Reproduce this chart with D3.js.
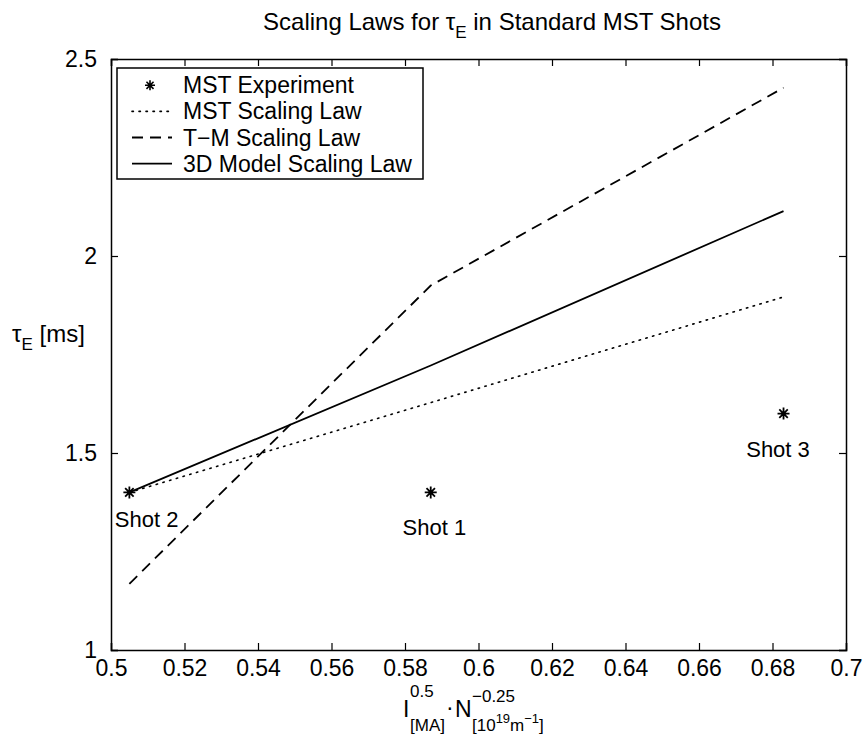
<!DOCTYPE html>
<html>
<head>
<meta charset="utf-8">
<script src="https://cdn.jsdelivr.net/npm/d3@7"></script>
<style>
  body { margin: 0; background: #fff; }
  svg { display: block; font-family: "Liberation Sans", Arial, Helvetica, sans-serif; }
  .axis text { font-size: 23px; fill: #000; }
</style>
</head>
<body>
<svg id="chart" width="868" height="734"></svg>
<script>
// ---- data ----
const xTicks = [0.5, 0.52, 0.54, 0.56, 0.58, 0.6, 0.62, 0.64, 0.66, 0.68, 0.7];
const yTicks = [1, 1.5, 2, 2.5];

const shotNames = ["Shot 2", "Shot 1", "Shot 3"];
const shotX = [0.505, 0.587, 0.683];
const shotTau = [1.4, 1.4, 1.6];
// where the shot labels sit (data units)
const labelX = [0.5097, 0.588, 0.6815];
const labelY = [1.313, 1.293, 1.491];

const mstLaw = [1.4, 1.628, 1.896];
const tmLaw = [1.168, 1.925, 2.427];
const model3dLaw = [1.4, 1.722, 2.114];

const legendNames = ["MST Experiment", "MST Scaling Law", "T\u2212M Scaling Law", "3D Model Scaling Law"];

const margin = { top: 59, right: 22, bottom: 84, left: 111 };
const width = 868, height = 734;

const svg = d3.select("#chart");

const x = d3.scaleLinear().domain([0.5, 0.7]).range([margin.left, width - margin.right]);
const y = d3.scaleLinear().domain([1, 2.5]).range([height - margin.bottom, margin.top]);

// 8-armed asterisk like matlab '*'
const star = {
  draw(ctx, size) {
    const r = Math.sqrt(size) / 2;
    const d = r * Math.SQRT1_2;
    ctx.moveTo(-r, 0); ctx.lineTo(r, 0);
    ctx.moveTo(0, -r); ctx.lineTo(0, r);
    ctx.moveTo(-d, -d); ctx.lineTo(d, d);
    ctx.moveTo(-d, d); ctx.lineTo(d, -d);
  }
};

// axes, ticks pointing inward on all four sides
const tickLen = 7;
svg.append("g")
  .attr("class", "axis")
  .attr("transform", "translate(0," + y(1) + ")")
  .call(d3.axisBottom(x).tickValues(xTicks).tickSize(-tickLen).tickPadding(10).tickFormat(d3.format("~g")));
svg.append("g")
  .attr("class", "axis")
  .attr("transform", "translate(0," + y(2.5) + ")")
  .call(d3.axisTop(x).tickValues(xTicks).tickSize(-tickLen).tickFormat(""));
svg.append("g")
  .attr("class", "axis")
  .attr("transform", "translate(" + x(0.5) + ",0)")
  .call(d3.axisLeft(y).tickValues(yTicks).tickSize(-tickLen).tickPadding(tickLen + 7).tickFormat(d3.format("~g")));
svg.append("g")
  .attr("class", "axis")
  .attr("transform", "translate(" + x(0.7) + ",0)")
  .call(d3.axisRight(y).tickValues(yTicks).tickSize(-tickLen).tickFormat(""));

svg.selectAll(".axis .domain").attr("stroke", "#000").attr("stroke-width", 1.5);
svg.selectAll(".axis .tick line").attr("stroke", "#000").attr("stroke-width", 1.2);

// scaling law curves
const line = d3.line()
  .x((d, i) => x(shotX[i]))
  .y(d => y(d));

const series = [
  { values: mstLaw, dash: "1.4,5.6", width: 1.6, cap: "round" },
  { values: tmLaw, dash: "11,7", width: 1.8, cap: "butt" },
  { values: model3dLaw, dash: null, width: 1.8, cap: "butt" }
];

svg.append("g").selectAll("path")
  .data(series)
  .join("path")
  .attr("d", d => line(d.values))
  .attr("fill", "none")
  .attr("stroke", "#000")
  .attr("stroke-width", d => d.width)
  .attr("stroke-linecap", d => d.cap)
  .attr("stroke-dasharray", d => d.dash);

// experiment points
svg.append("g").selectAll("path")
  .data(shotTau)
  .join("path")
  .attr("transform", (d, i) => "translate(" + x(shotX[i]) + "," + y(d) + ")")
  .attr("d", d3.symbol().type(star).size(144))
  .attr("fill", "none")
  .attr("stroke", "#000")
  .attr("stroke-width", 1.8);

svg.append("g").selectAll("text")
  .data(shotNames)
  .join("text")
  .attr("x", (d, i) => x(labelX[i]))
  .attr("y", (d, i) => y(labelY[i]))
  .attr("text-anchor", "middle")
  .attr("font-size", 22)
  .text(d => d);

// legend
const lg = svg.append("g").attr("transform", "translate(117,68)");
lg.append("rect")
  .attr("width", 306).attr("height", 111)
  .attr("fill", "#fff").attr("stroke", "#000").attr("stroke-width", 1.5);

const rows = lg.selectAll("g.row")
  .data(legendNames)
  .join("g")
  .attr("class", "row")
  .attr("transform", (d, i) => "translate(0," + (25.3 + i * 26.1) + ")");

rows.append("text")
  .attr("x", 66).attr("y", 0)
  .attr("font-size", 23)
  .text(d => d);

rows.filter((d, i) => i === 0).append("path")
  .attr("transform", "translate(33,-8)")
  .attr("d", d3.symbol().type(star).size(100))
  .attr("fill", "none").attr("stroke", "#000").attr("stroke-width", 1.6);

rows.filter((d, i) => i > 0).append("line")
  .attr("x1", 15).attr("x2", 55).attr("y1", -8).attr("y2", -8)
  .attr("stroke", "#000")
  .attr("stroke-width", (d, i) => series[i].width)
  .attr("stroke-linecap", (d, i) => series[i].cap)
  .attr("stroke-dasharray", (d, i) => series[i].dash);

// title
const title = svg.append("text")
  .attr("x", 492).attr("y", 30)
  .attr("text-anchor", "middle")
  .attr("font-size", 24);
title.append("tspan").text("Scaling Laws for \u03C4");
title.append("tspan").attr("font-size", 17).attr("dy", 8).text("E");
title.append("tspan").attr("dy", -8).text(" in Standard MST Shots");

// y label
const ylab = svg.append("text")
  .attr("x", 12).attr("y", 342)
  .attr("font-size", 24);
ylab.append("tspan").text("\u03C4");
ylab.append("tspan").attr("font-size", 17).attr("dy", 8).text("E");
ylab.append("tspan").attr("dy", -8).text(" [ms]");

// x label, pieces placed one by one (tex style sub/superscripts)
const xlab = svg.append("g").attr("font-size", 23);
xlab.append("text").attr("x", 403).attr("y", 717).text("I");
xlab.append("text").attr("x", 410).attr("y", 697).attr("font-size", 17).text("0.5");
xlab.append("text").attr("x", 410).attr("y", 731).attr("font-size", 17).text("[MA]");
xlab.append("text").attr("x", 446).attr("y", 715).text("\u00B7");
xlab.append("text").attr("x", 455).attr("y", 717).text("N");
xlab.append("text").attr("x", 472).attr("y", 702).attr("font-size", 17).text("\u22120.25");
const sub = xlab.append("text").attr("x", 472).attr("y", 731).attr("font-size", 17);
sub.append("tspan").text("[10");
sub.append("tspan").attr("font-size", 13).attr("dy", -8).text("19");
sub.append("tspan").attr("dy", 8).text("m");
sub.append("tspan").attr("font-size", 13).attr("dy", -8).text("\u22121");
sub.append("tspan").attr("dy", 8).text("]");
</script>
</body>
</html>
